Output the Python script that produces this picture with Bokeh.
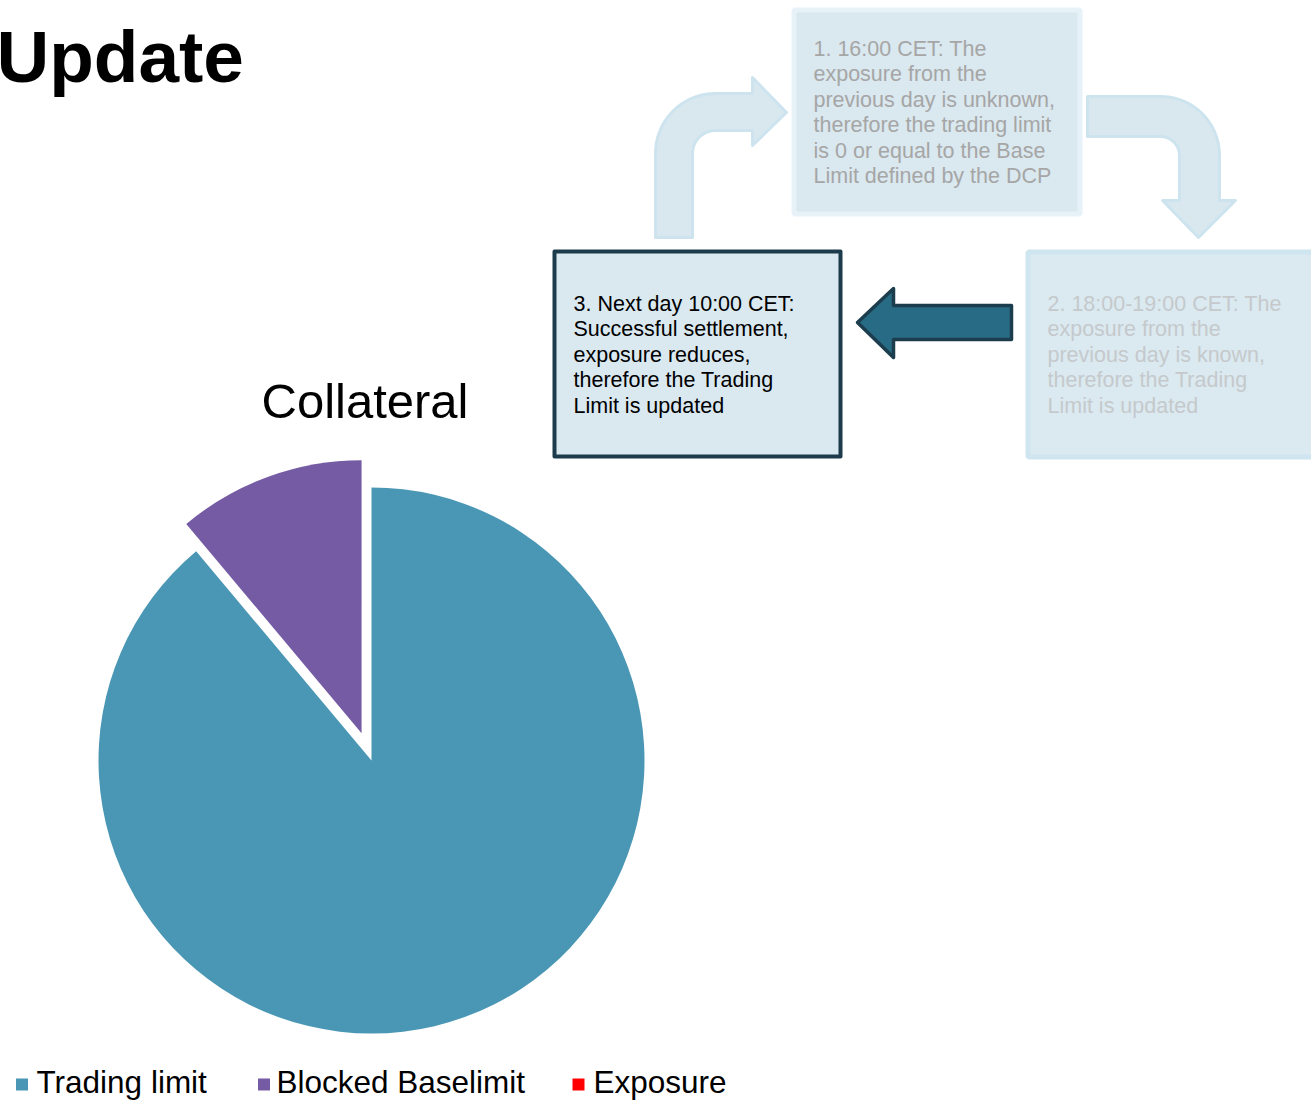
import numpy as np
from bokeh.plotting import figure
from bokeh.models import Range1d
from bokeh.core.properties import value
from bokeh.embed import file_html
from bokeh.resources import INLINE

# ---------------- data ----------------
categories = ["Trading limit", "Blocked Baselimit", "Exposure"]
values = [88.9, 11.1, 0.0]
colors = ["#4a97b5", "#745ba4", "#ff0000"]
explode = [0, 29, 0]

chart_title = "Collateral"
heading = "Update"

step1_lines = ["1. 16:00 CET: The", "exposure from the", "previous day is unknown,",
               "therefore the trading limit", "is 0 or equal to the Base",
               "Limit defined by the DCP"]
step2_lines = ["2. 18:00-19:00 CET: The", "exposure from the",
               "previous day is known,", "therefore the Trading", "Limit is updated"]
step3_lines = ["3. Next day 10:00 CET:", "Successful settlement,",
               "exposure reduces,", "therefore the Trading", "Limit is updated"]

# ---------------- layout ----------------
W, H = 1311, 1101
FONT = value("Liberation Sans")
MID = 0.35  # distance from baseline to the middle of the em box, in em


def Y(py):
    return H - np.asarray(py, dtype=float)


def text_at(xs, baselines, texts, size, color="black", align="left", style="normal"):
    ys = [b - MID * size for b in baselines]
    p.text(x=xs, y=Y(ys), text=texts, text_font=FONT, text_font_size=f"{size}px",
           text_font_style=style, text_color=color, text_baseline="middle",
           text_align=align)


p = figure(width=W, height=H, x_range=Range1d(0, W), y_range=Range1d(0, H),
           output_backend="svg", toolbar_location=None,
           x_axis_location=None, y_axis_location=None, min_border=0)
p.grid.visible = False
p.outline_line_color = None
p.background_fill_color = "white"
p.border_fill_color = "white"

# ---------------- heading ----------------
text_at([-4], [82], [heading], 73, style="bold")

# ---------------- pie ----------------
cx, cy, R = 371, Y(760), 273
vals = np.array(values, dtype=float)
ang = vals / vals.sum() * 2 * np.pi
ends = np.pi / 2 - np.cumsum(ang)
starts = ends + ang
mids = (starts + ends) / 2
mask = vals > 0
ex = np.array(explode, dtype=float)
wx = cx + ex * np.cos(mids)
wy = cy + ex * np.sin(mids)
p.wedge(x=wx[mask], y=wy[mask], radius=R, start_angle=starts[mask],
        end_angle=ends[mask], direction="clock",
        fill_color=[c for c, m in zip(colors, mask) if m], line_color=None)

text_at([364.5], [418], [chart_title], 49, align="center")

# ---------------- legend ----------------
sq_x = [21.5, 263.5, 578]
tx_x = [36, 276, 593]
p.scatter(x=sq_x, y=Y([1084] * 3), marker="square", size=12, fill_color=colors,
          line_color=None)
text_at(tx_x, [1093] * 3, categories, 31.5)

# ---------------- boxes ----------------
# box 1 (faded)
p.quad(left=[793.5], right=[1079.5], top=Y([9.5]), bottom=Y([213.5]),
       fill_color="#dae8ef", line_color="#e6f2f8", line_width=5)
# box 2 (faded, cut off at right)
p.quad(left=[1027.5], right=[1330], top=Y([251.5]), bottom=Y([456.5]),
       fill_color="#dbe9f0", line_color="#cfe6f1", line_width=5)
# box 3 (active)
p.quad(left=[554], right=[840], top=Y([251]), bottom=Y([456]),
       fill_color="#dae9f0", line_color="#1c3c4c", line_width=4,
       line_join="round")


def arc(cxp, cyp, r, a0, a1, n=24):
    t = np.linspace(a0, a1, n)
    return list(cxp + r * np.cos(t)), list(cyp - r * np.sin(t))


# arrow 1: up then right
ox, oy = arc(715, 153, 60, np.pi, np.pi / 2)
ix, iy = arc(715, 153, 23, np.pi / 2, np.pi)
a1x = [655] + ox + [752, 752, 786, 752, 752] + ix + [692]
a1y = [237] + oy + [93, 77, 112, 145, 130] + iy + [237]
# arrow 2: right then down
ox2, oy2 = arc(1160, 155, 59, np.pi / 2, 0)
ix2, iy2 = arc(1160, 155, 19, 0, np.pi / 2)
a2x = [1087] + ox2 + [1219, 1235, 1198, 1162, 1179] + ix2 + [1087]
a2y = [96] + oy2 + [200, 200, 237, 200, 200] + iy2 + [136]
p.patches(xs=[a1x, a2x], ys=[list(Y(a1y)), list(Y(a2y))], fill_color="#d9e8ef",
          line_color="#cde4ef", line_width=3, line_join="round")

# arrow 3: left (active)
a3x = [1011, 893, 893, 857, 893, 893, 1011]
a3y = [305, 305, 288, 322, 357, 339, 339]
p.patch(x=a3x, y=Y(a3y), fill_color="#286b85", line_color="#1c3d4e",
        line_width=3.5, line_join="round")

# ---------------- box texts ----------------
LS = 25.5
BOX_FS = 21.5


def box_text(x0, base0, lines, color):
    bases = [base0 + i * LS for i in range(len(lines))]
    text_at([x0] * len(lines), bases, lines, BOX_FS, color=color)


box_text(813, 56, step1_lines, "#a6a6a6")
box_text(1047, 311, step2_lines, "#c5c9cc")
box_text(573, 311, step3_lines, "black")

open("out.html", "w").write(file_html(p, INLINE))
